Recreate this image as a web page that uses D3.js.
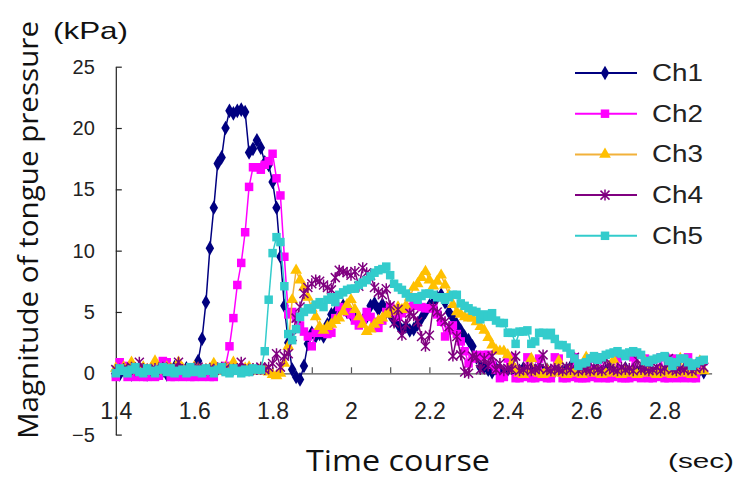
<!DOCTYPE html>
<html>
<head>
  <meta charset="utf-8">
  <script src="https://d3js.org/d3.v7.min.js"></script>
  <style>
    body { margin: 0; background: #fff; }
    svg { display: block; }
    .tick text { font-family: "Liberation Sans", Arial, sans-serif; fill: #222; }
  </style>
</head>
<body>
  <script>
    // sample clock of the recording (sec)
    const tStart = 1.4, tStep = 0.01;

    // tongue pressure per channel (kPa), one value per sample
    const ch1 = [0.2,-0.1,0.3,0,-0.1,0.2,0.4,0,-0.1,0.3,0.1,0,0.2,-0.1,0.3,0.5,0,0.2,0.4,0.1,
      0.3,1.0,2.8,5.8,10.2,13.5,17.1,17.6,20.0,21.4,21.2,21.4,21.5,21.3,18.0,18.3,19.0,18.4,17.2,17.0,
      15.6,13.5,9.5,5.5,2.5,0.3,-0.3,-0.5,
      0.6,2.4,3.3,3.0,3.2,3.0,4.0,4.8,5.0,5.2,5.5,5.0,4.8,5.0,4.5,4.3,4.6,5.5,5.7,5.2,
      5.6,5.0,4.8,4.3,4.0,3.5,3.8,3.5,3.6,4.0,4.5,5.0,5.5,5.8,6.2,6.4,5.8,5.0,4.5,4.0,
      3.5,3.0,2.7,2.2,1.3,0.5,
      0.5,0.3,0.1,0.4,0.2,0,0.3,0.5,0.1,0.2,0.4,0,0.3,0.2,0.5,0.1,0.3,0,0.2,0.4,
      0.1,0.3,0.5,0.2,0,0.3,0.1,0.4,0.2,0.3,0,0.2,0.5,0.1,0.3,0.2,0.4,0,0.3,0.1,
      0.2,0.5,0.3,0,0.2,0.4,0.1,0.3,0.2,0.5,0,0.3,0.1,0.4,0.2,0.3,0.1];
    const ch2 = [-0.3,0.9,0.6,-0.3,-0.2,-0.3,0.2,-0.3,-0.3,0.1,-0.3,-0.2,1.0,0.9,-0.3,-0.3,-0.2,-0.3,0.3,-0.3,
      -0.3,-0.2,-0.3,0.1,-0.3,-0.3,0.5,0.4,
      0.6,2.2,4.5,7.2,9.0,11.5,15.2,16.8,16.8,16.6,17.0,17.3,17.9,15.9,14.5,9.5,4.8,5.0,4.5,3.9,
      3.4,3.0,2.2,3.3,3.3,3.4,3.2,3.3,4.5,5.4,5.2,5.0,4.8,4.3,3.9,4.4,5.0,4.6,4.2,3.7,
      4.3,5.0,5.4,5.0,4.6,4.9,5.2,5.4,5.6,5.5,5.4,5.3,5.3,5.3,4.8,4.2,3.0,3.5,3.9,3.2,
      2.6,1.8,0.8,1.2,1.5,1.4,1.5,1.5,0.7,0.3,
      -0.4,-0.3,1.2,1.3,-0.4,-0.4,-0.3,1.3,-0.4,-0.4,1.2,-0.3,-0.4,-0.4,1.3,1.2,-0.4,-0.4,-0.3,1.3,
      -0.4,-0.4,-0.4,1.2,-0.3,-0.4,1.3,-0.4,-0.4,-0.3,1.2,-0.4,-0.4,-0.4,1.3,-0.3,-0.4,1.2,-0.4,-0.4,
      -0.3,1.3,-0.4,-0.4,1.2,-0.4,-0.3,-0.4,1.3,-0.4,-0.4,0.3,1.0];
    const ch3 = [0.4,0.2,0.5,0.3,0.9,0.4,0.2,0.5,0.3,0.4,1.0,0.3,0.2,0.5,0.4,0.3,0.9,0.4,0.2,0.3,
      0.5,0.4,0.2,0.3,0.4,0.8,0.3,0.2,0.5,0.4,0.9,0.3,0.2,0.4,0.5,0.3,0.2,0.4,0.3,0.1,
      -0.1,-0.2,
      0.0,0.8,2.2,6.0,8.4,7.6,7.0,6.2,5.3,4.6,3.8,3.5,3.8,4.0,4.3,4.5,5.0,5.6,6.0,5.2,
      4.6,4.0,3.4,3.6,4.0,4.3,4.5,4.8,5.0,5.1,5.4,5.2,5.5,6.2,7.0,7.3,7.8,8.3,7.6,7.1,
      7.5,8.0,7.2,6.4,5.6,5.0,4.8,4.6,4.5,4.5,4.2,3.8,3.5,2.9,2.3,1.9,1.8,1.8,1.5,0.8,
      0.3,0,-0.1,0.2,1.2,0.1,0,-0.1,0.3,0,0.1,1.0,0,-0.1,0.2,0,0.1,-0.1,1.3,0.1,
      0,0.2,-0.1,0,0.1,1.1,0,-0.1,0.2,0,0.1,-0.1,0,1.0,0.1,0,-0.1,0.2,0,0.1,
      -0.1,0,1.2,0.1,0,-0.1,0.2,1.0,0.2];
    const ch4 = [0.3,0.2,0.4,0.3,0.5,0.2,0.9,0.4,0.3,0.2,0.4,0.3,0.5,0.2,0.3,0.4,0.9,0.3,0.2,0.4,
      0.3,0.5,0.2,0.3,0.4,0.2,0.3,0.5,0.4,0.2,0.3,0.4,0.9,0.3,0.2,0.4,0.3,0.5,0.3,
      0.5,0.8,1.6,0.5,1.4,1.6,3.0,4.5,5.4,6.5,7.0,7.3,7.6,7.5,7.2,7.0,6.8,7.8,8.4,8.3,
      8.2,8.0,8.3,7.1,8.6,8.2,8.0,7.0,6.6,6.4,6.9,5.5,4.1,5.2,3.1,4.0,4.9,4.7,4.2,3.0,
      2.2,3.1,5.4,5.0,4.6,4.2,3.8,1.4,3.0,1.5,0.1,0.0,1.4,1.3,0.3,1.2,0.6,1.4,
      0.3,0.8,0.2,0.4,0.3,1.4,0.2,0.3,0.5,0.2,0.3,0.4,1.5,0.3,0.2,0.4,0.3,0.2,0.5,0.3,
      1.3,0.2,0.4,0.3,0.2,0.5,0.3,0.2,1.2,0.4,0.3,0.2,0.5,0.3,0.4,0.2,1.1,0.3,0.4,0.2,
      0.3,0.5,0.2,0.4,1.2,0.3,0.2,0.4,0.3,0.5,0.2,0.4,0.8,0.5];
    const ch5 = [0,0.4,0.2,0,0.3,0.5,0.1,0,0.4,0.2,0,0.3,0.5,0.1,0.4,0,0.2,0.3,0,0.5,
      0.1,0.3,0,0.4,0.2,0,0.3,0.5,0.1,0,0.4,0.2,0,0.3,0.1,0.4,0.3,
      0.3,1.8,6.0,9.8,11.1,10.7,7.1,3.2,2.7,3.6,4.6,5.0,5.3,5.2,5.6,5.8,5.4,6.0,6.2,5.8,
      6.4,6.6,6.8,6.9,6.9,7.2,7.4,7.6,7.9,8.2,8.4,8.5,8.7,8.0,7.3,7.0,6.8,6.5,6.2,6.2,
      6.0,6.3,6.5,6.5,6.4,6.2,6.2,6.0,6.2,6.4,6.4,5.7,5.5,5.3,5.1,5.0,4.4,4.8,4.6,4.9,
      4.3,4.1,4.1,3.3,3.3,2.4,3.4,3.4,3.5,2.4,2.6,3.3,3.3,3.1,3.3,2.8,2.3,2.3,2.1,1.6,
      1.2,0.6,0.8,0.9,1.2,1.4,1.1,1.3,1.5,1.6,1.7,1.8,1.6,1.4,1.7,1.8,1.7,1.5,1.0,0.9,
      1.1,1.2,1.3,1.4,1.0,0.6,0.9,1.2,1.2,0.9,0.6,0.8,1.0,1.1];

    const seriesNames = ["Ch1", "Ch2", "Ch3", "Ch4", "Ch5"];
    const seriesValues = [ch1, ch2, ch3, ch4, ch5];

    const xLabelTicks = [1.4, 1.6, 1.8, 2, 2.2, 2.4, 2.6, 2.8];
    const xMinorTicks = [1.5, 1.6, 1.7, 1.8, 1.9, 2, 2.1, 2.2, 2.3, 2.4, 2.5, 2.6, 2.7, 2.8, 2.9];
    const yTicks = [-5, 0, 5, 10, 15, 20, 25];

    //Styles
    const lineColors = ["#000080", "#ff00ff", "#f2b13a", "#800080", "#33cccc"];
    const markerColors = ["#000080", "#ff00ff", "#ffc000", "#800080", "#33cccc"];

    const width = 740, height = 480;

    const svg = d3.select("body").append("svg")
      .attr("width", width)
      .attr("height", height);

    const x = d3.scaleLinear().domain([1.4, 2.92]).range([115.8, 711.6]);
    const y = d3.scaleLinear().domain([-5, 25]).range([434.6, 66.7]);

    //Y axis, ticks pointing into the plot
    svg.append("g")
      .attr("transform", "translate(" + x(1.4) + ",0)")
      .call(d3.axisLeft(y).tickValues(yTicks).tickSizeInner(-6).tickSizeOuter(0).tickPadding(21))
      .call(g => g.select(".domain").attr("stroke", "#222").attr("stroke-width", 1.2))
      .call(g => g.selectAll(".tick line").attr("stroke", "#222").attr("stroke-width", 1.2))
      .call(g => g.selectAll(".tick text").attr("font-size", 20));

    //X axis on the zero line
    svg.append("g")
      .attr("transform", "translate(0," + y(0) + ")")
      .call(d3.axisBottom(x).tickValues(xMinorTicks).tickSizeInner(-6).tickSizeOuter(0).tickFormat(""))
      .call(g => g.select(".domain").attr("stroke", "#555").attr("stroke-width", 1.2))
      .call(g => g.selectAll(".tick line").attr("stroke", "#555").attr("stroke-width", 1.2));

    svg.append("g")
      .attr("transform", "translate(0," + y(0) + ")")
      .call(d3.axisBottom(x).tickValues(xLabelTicks).tickSize(0).tickPadding(29).tickFormat(d3.format("~g")))
      .call(g => g.select(".domain").remove())
      .call(g => g.selectAll(".tick text").attr("font-size", 23));

    //Series
    const asterisk = "M-4.5,-4.5L4.5,4.5M-4.5,4.5L4.5,-4.5M0,-5.5L0,5.5";
    function marker(sel, k) {
      if (k === 0) sel.attr("d", d3.symbol(d3.symbolDiamond, 62)).attr("fill", markerColors[k]);
      if (k === 1) sel.attr("d", d3.symbol(d3.symbolSquare, 72)).attr("fill", markerColors[k]);
      if (k === 2) sel.attr("d", d3.symbol(d3.symbolTriangle, 60)).attr("fill", markerColors[k]);
      if (k === 3) sel.attr("d", asterisk).attr("fill", "none").attr("stroke", markerColors[k]).attr("stroke-width", 1.5);
      if (k === 4) sel.attr("d", d3.symbol(d3.symbolSquare, 72)).attr("fill", markerColors[k]);
    }

    const line = d3.line()
      .x((d, i) => x(tStart + i * tStep))
      .y(d => y(d));

    seriesValues.forEach((values, k) => {
      const g = svg.append("g");
      g.append("path")
        .attr("d", line(values))
        .attr("fill", "none")
        .attr("stroke", lineColors[k])
        .attr("stroke-width", 1.5);
      g.selectAll("path.m")
        .data(values)
        .enter().append("path")
        .attr("class", "m")
        .attr("transform", (d, i) => "translate(" + x(tStart + i * tStep) + "," + y(d) + ")")
        .call(marker, k);
    });

    //Legend
    const legend = svg.append("g");
    seriesNames.forEach((name, k) => {
      const ly = 73 + k * 40.7;
      legend.append("line")
        .attr("x1", 575).attr("x2", 637).attr("y1", ly).attr("y2", ly)
        .attr("stroke", lineColors[k]).attr("stroke-width", 2);
      legend.append("path")
        .attr("transform", "translate(605," + ly + ")")
        .call(marker, k);
      legend.append("text")
        .attr("x", 652).attr("y", ly + 8)
        .attr("font-family", "Liberation Sans, Arial, sans-serif")
        .attr("font-size", 23)
        .attr("textLength", 51).attr("lengthAdjust", "spacingAndGlyphs")
        .attr("fill", "#222")
        .text(name);
    });

    //Titles
    svg.append("text")
      .attr("transform", "translate(38,230) rotate(-90)")
      .attr("text-anchor", "middle")
      .attr("font-family", "Open Sans, sans-serif")
      .attr("font-size", 28)
      .attr("textLength", 418).attr("lengthAdjust", "spacingAndGlyphs")
      .attr("fill", "#111")
      .text("Magnitude of tongue pressure");

    svg.append("text")
      .attr("x", 53).attr("y", 39)
      .attr("font-family", "Liberation Sans, Arial, sans-serif")
      .attr("font-size", 24)
      .attr("textLength", 75).attr("lengthAdjust", "spacingAndGlyphs")
      .attr("fill", "#111")
      .text("(kPa)");

    svg.append("text")
      .attr("x", 398).attr("y", 471)
      .attr("text-anchor", "middle")
      .attr("font-family", "Open Sans, sans-serif")
      .attr("font-size", 29)
      .attr("textLength", 184).attr("lengthAdjust", "spacingAndGlyphs")
      .attr("fill", "#111")
      .text("Time course");

    svg.append("text")
      .attr("x", 668).attr("y", 468)
      .attr("font-family", "Liberation Sans, Arial, sans-serif")
      .attr("font-size", 21)
      .attr("textLength", 66).attr("lengthAdjust", "spacingAndGlyphs")
      .attr("fill", "#111")
      .text("(sec)");
  </script>
</body>
</html>
